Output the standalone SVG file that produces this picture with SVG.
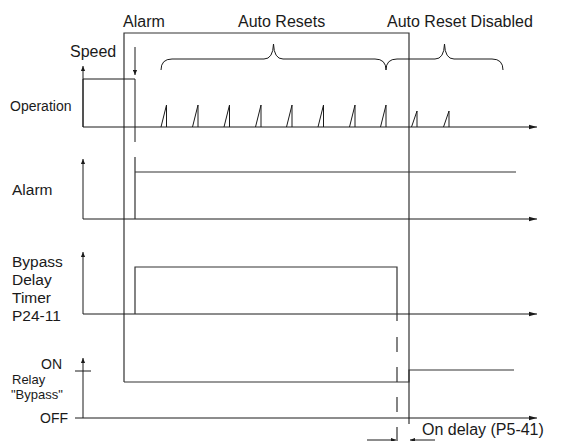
<svg xmlns="http://www.w3.org/2000/svg" width="566" height="441" viewBox="0 0 566 441">
<defs>
<style>
.ln{fill:none;stroke:#1a1a1a;stroke-width:1}
.sg{fill:none;stroke:#333;stroke-width:1.2}
.t{font-family:"Liberation Sans",Arial,sans-serif;fill:#1a1a1a}
</style>
<marker id="ah" viewBox="0 0 8 6" refX="8" refY="3" markerWidth="8" markerHeight="6" markerUnits="userSpaceOnUse" orient="auto">
<path d="M0,0.8 L8,3 L0,5.2 Z" fill="#1a1a1a"/>
</marker>
<marker id="ahs" viewBox="0 0 6 6" refX="6" refY="3" markerWidth="6" markerHeight="5" markerUnits="userSpaceOnUse" orient="auto">
<path d="M0,0.5 L6,3 L0,5.5 Z" fill="#1a1a1a"/>
</marker>
</defs>
<rect width="566" height="441" fill="#fff"/>

<g id="labels" class="t">
<text x="123" y="27" font-size="16">Alarm</text>
<text x="238" y="27" font-size="16">Auto Resets</text>
<text x="387" y="27" font-size="16">Auto Reset Disabled</text>
<text x="70" y="57" font-size="16">Speed</text>
<text x="10" y="110.5" font-size="14">Operation</text>
<text x="12" y="195" font-size="15.5">Alarm</text>
<text x="12" y="267" font-size="15.5">Bypass</text>
<text x="12" y="285" font-size="15.5">Delay</text>
<text x="12" y="303" font-size="15.5">Timer</text>
<text x="12" y="321" font-size="15.5">P24-11</text>
<text x="62" y="368.5" font-size="14" text-anchor="end">ON</text>
<text x="12" y="384" font-size="13">Relay</text>
<text x="11" y="399" font-size="13">"Bypass"</text>
<text x="68" y="423" font-size="14" text-anchor="end">OFF</text>
<text x="422" y="435" font-size="16">On delay (P5-41)</text>
</g>

<g id="frame">
<path class="sg" d="M124,382 L124,33 L409,33 L409,424"/>
</g>

<g id="braces">
<path class="ln" d="M161,70 Q161,59 172,59 L264,59 Q273,59 273.5,44 Q274,59 283,59 L375,59 Q386,59 386,70 Q386,59 397,59 L435,59 Q444,59 444.5,44 Q445,59 454,59 L492,59 Q503,59 503,70"/>
</g>

<g id="speed-operation">
<path class="ln" d="M83,127 L83,66" marker-end="url(#ahs)"/>
<path class="ln" d="M83,127 L537,127" marker-end="url(#ah)"/>
<path class="ln" d="M83,127 L83,79 L135,79 L135,142"/>
<path class="ln" d="M135,47 L135,75" marker-end="url(#ahs)"/>
<path class="ln" d="M161,127 L166.5,105 L166.5,127 M192.5,127 L198,105 L198,127 M224,127 L229.5,105 L229.5,127 M255.5,127 L261,105 L261,127 M286.5,127 L292,105 L292,127 M318,127 L323.5,105 L323.5,127 M349.5,127 L355,105 L355,127 M380.5,127 L386,105 L386,127 M411.5,127 L417,111 L417,127 M443.5,127 L449,111 L449,127"/>
</g>

<g id="alarm">
<path class="ln" d="M83,219 L83,159" marker-end="url(#ahs)"/>
<path class="ln" d="M83,219 L537,219" marker-end="url(#ah)"/>
<path class="sg" d="M135,157 L135,219 M135,172 L516,172"/>
</g>

<g id="bypass-timer">
<path class="ln" d="M83,314 L83,252" marker-end="url(#ahs)"/>
<path class="ln" d="M83,314 L537,314" marker-end="url(#ah)"/>
<path class="sg" d="M135,314 L135,267 L397,267 L397,321"/>
<path class="sg" d="M397,337 L397,441" stroke-dasharray="15 15"/>
</g>

<g id="relay">
<path class="ln" d="M83,418 L83,358" marker-end="url(#ahs)"/>
<path class="ln" d="M75,371 L91,371"/>
<path class="ln" d="M75,418 L537,418" marker-end="url(#ah)"/>
<path class="sg" d="M124,382 L409,382 L409,370 L514,370"/>
</g>

<g id="connectors">
<path class="ln" d="M367,440 L396,440" marker-end="url(#ahs)"/>
<path class="ln" d="M435,440 L410,440" marker-end="url(#ahs)"/>
</g>
</svg>
